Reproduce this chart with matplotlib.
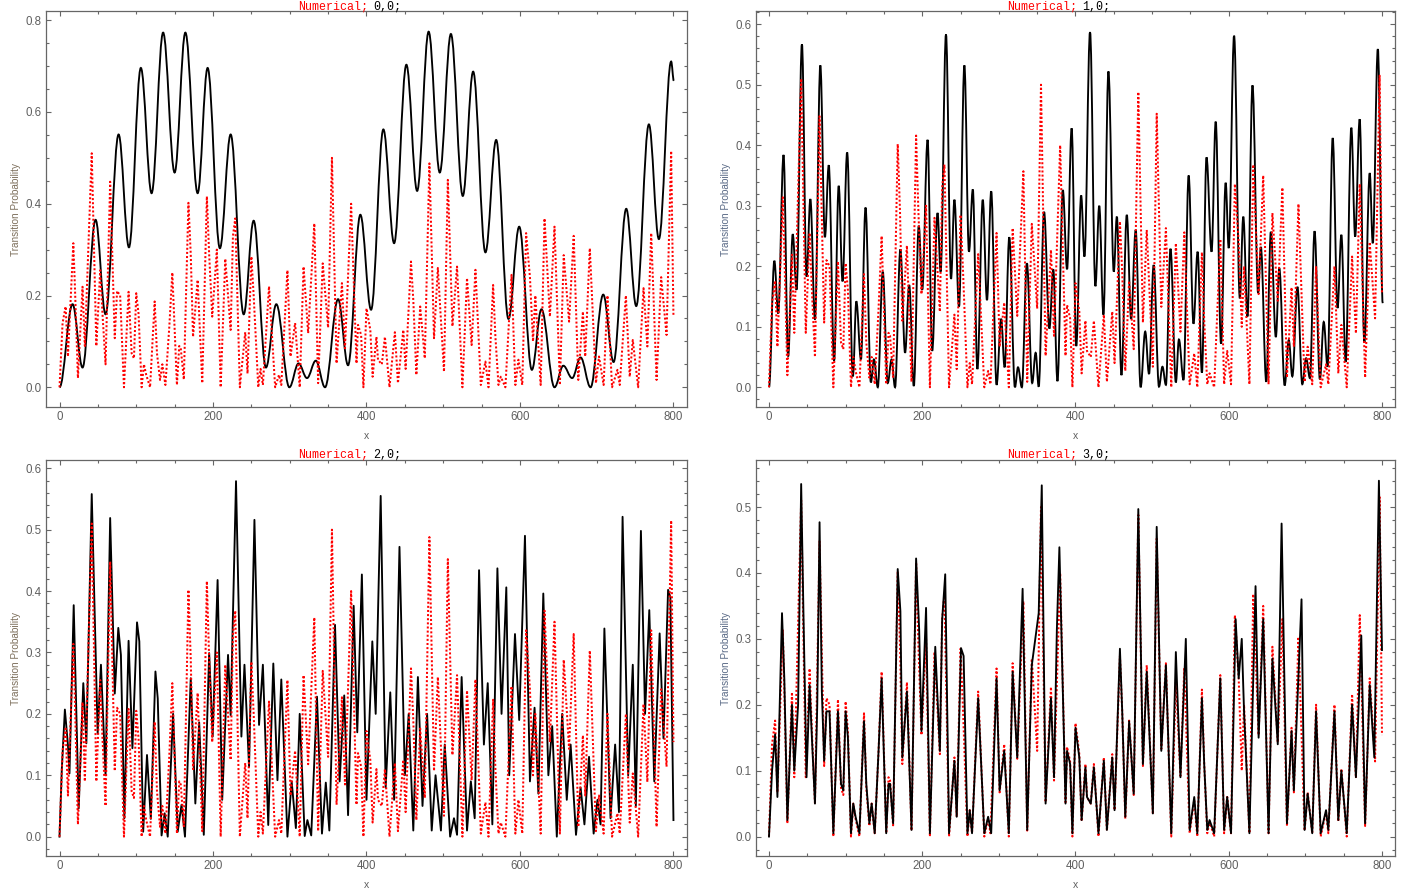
import numpy as np
import matplotlib
matplotlib.use("Agg")
import matplotlib.pyplot as plt
from matplotlib.path import Path
from matplotlib.patches import PathPatch
from matplotlib.ticker import MultipleLocator

FIG_W, FIG_H = 1409, 896

# numerical curve, the same in all four plots: (x, probability)
numerical = [
    (0, 0), (4, .14), (8, .176), (11, .067), (18, .314), (20, .223), (24, .02), (30, .219), (33, .09),
    (42, .51), (48, .09), (53, .255), (56, .16), (60, .05), (66, .448), (72, .107), (75, .21), (79, .2),
    (84, 0), (90, .208), (94, .074), (97, .063), (100, .205), (103, .16), (107, 0), (110, .05), (113, .027),
    (118, 0), (124, .187), (127, .074), (131, .016), (134, .05), (138, .005), (143, .13), (147, .25),
    (153, .005), (156, .09), (158, .085), (162, .017), (168, .402), (171, .29), (174, .11), (180, .234),
    (186, .009), (192, .416), (195, .29), (199, .154), (205, .3), (210, 0), (216, .28), (223, .125),
    (226, .33), (229, .368), (235, 0), (242, .12), (245, .03), (250, .285), (253, .2), (259, 0), (262, .04),
    (265, .005), (273, .22), (281, 0), (286, .027), (289, .005), (297, .255), (301, .067), (307, .14),
    (313, 0), (318, .263), (324, .118), (332, .357), (337, .009), (343, .27), (350, .13), (355, .5),
    (361, .052), (368, .227), (372, .085), (380, .4), (385, .154), (387, .052), (389, .136), (393, .114),
    (396, 0), (400, .172), (405, .125), (408, .023), (413, .11), (415, .06), (420, .05), (424, .11),
    (430, 0), (437, .12), (441, .009), (448, .125), (451, .04), (458, .274), (461, .19), (465, .027),
    (470, .176), (476, .063), (482, .488), (488, .107), (493, .26), (501, .034), (506, .452), (512, .133),
    (518, .263), (525, 0), (531, .238), (537, .092), (542, .256), (549, .005), (555, .056), (559, 0),
    (565, .223), (568, .11), (572, .005), (575, .023), (581, 0), (589, .245), (594, .005), (598, .06),
    (603, .005), (608, .336), (613, .24), (617, .1), (620, .2), (627, .005), (632, .368), (639, .154),
    (645, .35), (652, .005), (657, .288), (664, .143), (670, .33), (676, .016), (682, .165), (685, .067),
    (691, .303), (699, .009), (703, .067), (709, .005), (714, .2), (720, 0), (727, .038), (730, .005),
    (738, .2), (743, .023), (747, .103), (754, 0), (761, .216), (766, .089), (771, .336), (778, .016),
    (784, .24), (791, .114), (797, .515), (800, .154),
]

# black curves in the first two plots only keep their turning points
turning_00 = [
    (0, 0), (17, .181), (30, .043), (47, .365), (60, .159), (77, .551), (90.5, .305), (106, .696), (120, .423),
    (135, .773), (150, .468), (164, .773), (180, .423), (193, .696), (209, .303), (223, .551), (240, .159),
    (253, .363), (269, .043), (282.5, .181), (299.5, 0), (311.5, .052), (322.5, .02), (334, .058), (346, 0),
    (363, .192), (376, .048), (392, .376), (406, .169), (422, .562), (436, .314), (452, .703), (466, .428),
    (481, .775), (495.5, .468), (510, .77), (525.5, .417), (539, .688), (555, .294), (569, .539), (585, .149),
    (599, .35), (615.5, .038), (628, .17), (645, 0), (656.5, .047), (668, .02), (679, .065), (692, 0),
    (708.5, .202), (722, .055), (738.5, .389), (751.5, .177), (768, .573), (781, .323), (797, .71), (800.5, .668),
]

turning_10 = [
    (0, 0), (7, .209), (12, .122), (19, .384), (25, .051), (31, .253), (36, .161), (43, .567), (49, .183),
    (54, .311), (60, .112), (67, .532), (73, .248), (78, .367), (85, .044), (91, .333), (96, .175), (102, .388),
    (109.5, .018), (114, .142), (120, .046), (126, .297), (133, .008), (137, .046), (142, 0), (148.5, .191),
    (155, .007), (160, .046), (164.5, 0), (171.5, .228), (177.6, .057), (183, .169), (189, .002), (195.5, .267),
    (200, .161), (207, .409), (213, .06), (220, .288), (224, .191), (231, .583), (237.6, .179), (242, .31),
    (248, .133), (255, .532), (261, .224), (266, .327), (272, .03), (279, .31), (284.5, .144), (290, .324),
    (297, .004), (303, .113), (307.5, .033), (313.6, .248), (321, 0), (325, .033), (330, 0), (336.6, .205),
    (343.5, .007), (348, .057), (352, .001), (359, .29), (366, .097), (371, .195), (376.5, .01), (383.5, .326),
    (389, .195), (395, .428), (401, .068), (407.4, .317), (411.7, .216), (419, .587), (426, .167), (431, .30),
    (436.5, .12), (443, .522), (450, .191), (454, .282), (460, .02), (467, .285), (472.6, .113), (478.6, .26),
    (485, 0), (491, .092), (496, .022), (502, .202), (509, .001), (513.5, .034), (518, .004), (524, .229),
    (531, .008), (535, .079), (541, .012), (547.7, .35), (554, .105), (559.4, .224), (565, .024), (571, .38),
    (577.6, .224), (583, .439), (590, .072), (596, .338), (600, .23), (607, .581), (614.5, .147), (619, .282),
    (624.5, .117), (631, .499), (638.4, .156), (641.9, .232), (649, .009), (655, .257), (661.5, .083),
    (666, .197), (673, .003), (678.4, .078), (683, .018), (689.7, .166), (696, .005), (701, .048), (706, .015),
    (712, .258), (719, .013), (724, .108), (729, .034), (735.7, .412), (742, .131), (747, .252), (752.6, .042),
    (760, .429), (765, .249), (770.9, .443), (777, .074), (784, .354), (788, .238), (794.6, .559), (801, .139),
]

# the last two black curves are drawn as plain polylines
exact_20 = [
    (0, 0), (3, .11), (7, .207), (11, .149), (13, .103), (18.5, .377), (25, .046), (31, .25), (35, .152),
    (42, .558), (49.7, .168), (54, .28), (60, .1), (66, .519), (72, .233), (76.6, .34), (80, .296), (84.5, .03),
    (90, .319), (95, .144), (101, .349), (104, .318), (109, .008), (114, .133), (119, .029), (125, .269),
    (128, .225), (133, .002), (137, .038), (141, 0), (148, .2), (154, .008), (159, .052), (163.5, 0), (171, .258),
    (177, .054), (182, .186), (188, .003), (195, .299), (199.6, .163), (206, .418), (212, .06), (219.6, .296),
    (223, .198), (230, .579), (237, .163), (241, .28), (247, .114), (254, .516), (260, .182), (265, .28),
    (272, .019), (278.6, .282), (284, .092), (289, .256), (297, 0), (302.5, .09), (308, .014), (313, .2),
    (319.5, .001), (323, .027), (328, .002), (335.5, .228), (342, .005), (347, .088), (351.6, .01), (359, .345),
    (365, .09), (371, .23), (376, .035), (383.3, .376), (388, .17), (394, .427), (400, .06), (407.6, .318),
    (412, .2), (418.5, .555), (425, .08), (431, .235), (436, .06), (443, .472), (450, .1), (455, .2), (461, .01),
    (467, .26), (473, .05), (479, .2), (485, .01), (490, .1), (497, .01), (502, .15), (509, 0), (514, .03),
    (518, .003), (524, .26), (531, .01), (536, .09), (541, .03), (546.7, .434), (553, .15), (558, .25),
    (564, .02), (570.6, .437), (576, .2), (582.2, .406), (586, .1), (593.5, .33), (599, .19), (606.5, .49),
    (613, .09), (619, .21), (624, .07), (630.4, .396), (637, .1), (642, .18), (648, 0), (655, .2), (661, .06),
    (666, .15), (673, .003), (679, .08), (684, .02), (690, .13), (696, .005), (701, .06), (705, .02), (710, .339),
    (718, .03), (724, .15), (729, .04), (733.7, .521), (741, .1), (747, .28), (751, .05), (757.6, .498),
    (763, .2), (768.5, .369), (775, .09), (782, .331), (787, .16), (793, .402), (796, .39), (800, .027),
]

exact_30 = [
    (0, 0), (4, .10), (8, .155), (11, .06), (17, .339), (20, .24), (24, .025), (30, .2), (33, .1), (38, .2),
    (42, .535), (45, .337), (49, .09), (53, .23), (56, .15), (60, .05), (63, .2), (66, .477), (69, .22),
    (72, .115), (75, .19), (79, .19), (84, .005), (90, .19), (94, .08), (97, .07), (100, .19), (103, .15),
    (107, .005), (110, .05), (113, .03), (118, .005), (124, .175), (127, .08), (131, .02), (134, .05),
    (138, .005), (143, .13), (147, .24), (153, .005), (156, .08), (158, .08), (162, .02), (168, .406),
    (171.5, .342), (174, .12), (180, .22), (186, .01), (192, .422), (196, .314), (199, .16), (205, .347),
    (210, .005), (217, .288), (223, .13), (226, .329), (230, .398), (235, .005), (242, .115), (245, .03),
    (250.6, .286), (254, .274), (259, .005), (262, .04), (265, .005), (273, .21), (281, .005), (286, .03),
    (290, .005), (297, .24), (301, .07), (307, .13), (313, .005), (318, .25), (324, .12), (331, .376),
    (337, .01), (343, .26), (352, .339), (356, .533), (361, .05), (368, .21), (372, .09), (375.7, .314),
    (379, .439), (385, .15), (387, .05), (389, .13), (393, .11), (396, .005), (400, .165), (405, .12),
    (408, .025), (413, .105), (415, .06), (420, .05), (424, .105), (430, .005), (437, .115), (441, .01),
    (448, .12), (451, .04), (458, .285), (461, .19), (465, .03), (470, .175), (476, .065), (482, .497),
    (488, .11), (493, .25), (501, .035), (506, .47), (512, .13), (518, .26), (525, .005), (531, .28),
    (537, .09), (544, .3), (549, .01), (555, .06), (559, .005), (565, .21), (568, .11), (572, .01), (575, .025),
    (581, .005), (589, .24), (594, .01), (598, .06), (603, .005), (609, .33), (613, .24), (617, .3), (620, .19),
    (627, .005), (635, .38), (639, .15), (645, .33), (652, .005), (657, .27), (664, .14), (669, .475),
    (676, .02), (682, .16), (685, .07), (695, .36), (699, .01), (703, .065), (709, .005), (714, .19),
    (720, .005), (727, .04), (730, .01), (738, .19), (743, .025), (747, .1), (754, .005), (761, .2), (766, .09),
    (773, .305), (778, .02), (784, .23), (790, .12), (796, .54), (800, .283),
]

panel_labels = ["0,0;", "1,0;", "2,0;", "3,0;"]
ylims = [(-.043, .819), (-.0326, .621), (-.032, .613), (-.03, .571)]
y_major = [.2, .1, .1, .1]
y_minor = [.05, .02, .02, .02]

# axes frames in pixels: left, right, top, bottom
frames = [(46, 686.5, 11.5, 407), (755.5, 1395, 11.5, 407),
          (46, 686.5, 460.3, 856.3), (755.5, 1395, 460.3, 856.3)]
ylabel_colors = ["#7d6f5c", "#5a6a86", "#7d6f5c", "#5a6a86"]

FRAME = "#666666"
LABEL = "#5f5f5f"


def smooth_path(points):
    # cubic segments with flat tangents at every turning point
    verts = [points[0]]
    codes = [Path.MOVETO]
    for (x0, y0), (x1, y1) in zip(points[:-1], points[1:]):
        h = (x1 - x0) * 0.37
        verts += [(x0 + h, y0), (x1 - h, y1), (x1, y1)]
        codes += [Path.CURVE4] * 3
    return Path(verts, codes)


plt.rcParams["font.family"] = ["Liberation Sans", "DejaVu Sans"]
fig = plt.figure(figsize=(FIG_W / 100, FIG_H / 100), dpi=100)

num = np.array(numerical)
for i, (left, right, top, bottom) in enumerate(frames):
    ax = fig.add_axes([left / FIG_W, 1 - bottom / FIG_H, (right - left) / FIG_W, (bottom - top) / FIG_H])
    ax.set_xlim(-17.6, 817)
    ax.set_ylim(*ylims[i])

    # black goes over the red dots only in the last plot
    red_z = 2 if i == 3 else 4
    ax.plot(num[:, 0], num[:, 1], color="#ff0000", lw=1.45, ls=(0, (1, 1.05)), zorder=red_z, dash_capstyle="butt")
    if i < 2:
        pts = turning_00 if i == 0 else turning_10
        ax.add_patch(PathPatch(smooth_path(pts), fc="none", ec="black", lw=1.35, zorder=3))
    else:
        pts = np.array(exact_20 if i == 2 else exact_30)
        ax.plot(pts[:, 0], pts[:, 1], color="black", lw=1.35, zorder=3)

    ax.xaxis.set_major_locator(MultipleLocator(200))
    ax.xaxis.set_minor_locator(MultipleLocator(50))
    ax.yaxis.set_major_locator(MultipleLocator(y_major[i]))
    ax.yaxis.set_minor_locator(MultipleLocator(y_minor[i]))
    ax.tick_params(which="both", direction="in", top=True, right=True, color=FRAME, width=0.8)
    ax.tick_params(which="major", length=3.4, labelsize=8.3, labelcolor=LABEL, pad=3)
    ax.tick_params(which="minor", length=2)
    for side in ax.spines.values():
        side.set_color(FRAME)
        side.set_linewidth(0.9)

    # axis captions sit at fixed pixel spots
    fig.text((left + right) / 2 / FIG_W, 1 - (bottom + 29) / FIG_H, "x", fontsize=7.5, color=LABEL,
             ha="center", va="center")
    fig.text((left - 29.5) / FIG_W, 1 - (top + 198.5) / FIG_H, "Transition Probability", fontsize=7.2,
             color=ylabel_colors[i], rotation=90, ha="center", va="center")

    # title mixes a red and a black part in a typewriter face
    mid = (left + right) / 2
    fig.text((mid + 2) / FIG_W, 1 - (top - 5.2) / FIG_H, "Numerical;", family="Liberation Mono", fontsize=8.4,
             color="#ff0000", ha="right", va="center")
    fig.text((mid + 7) / FIG_W, 1 - (top - 5.2) / FIG_H, panel_labels[i], family="Liberation Mono", fontsize=8.4,
             color="black", ha="left", va="center")

fig.savefig("out.png", dpi=100)
